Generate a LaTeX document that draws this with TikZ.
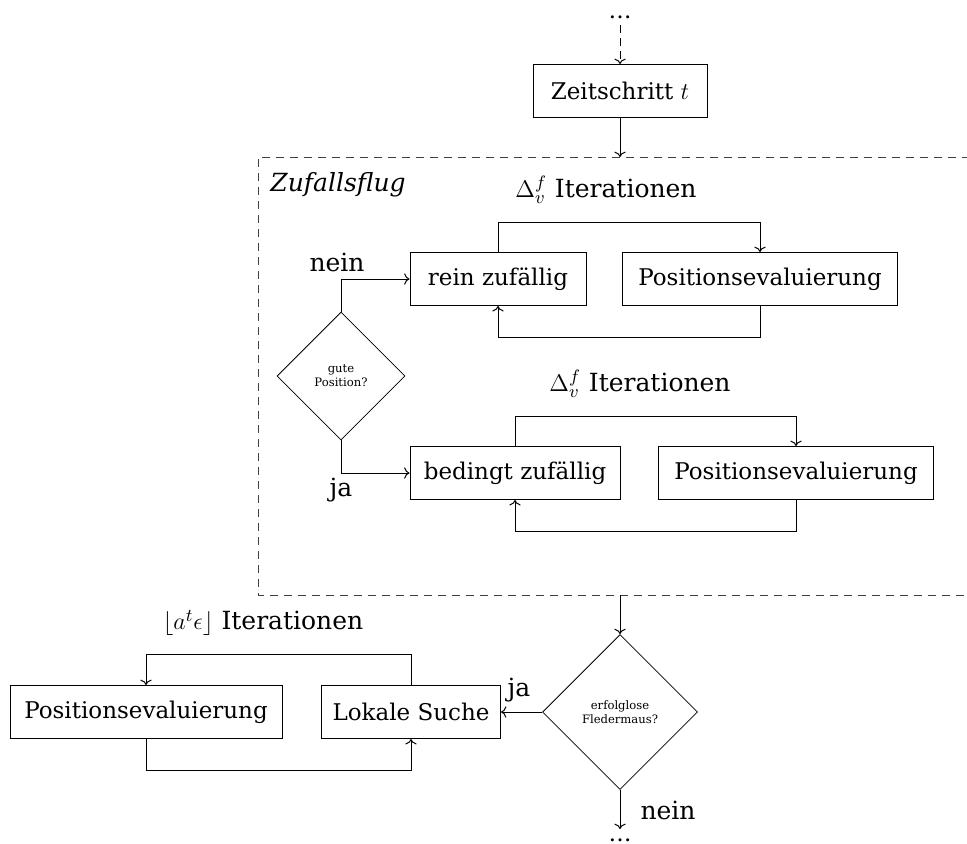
\documentclass[tikz,border=0pt]{standalone}
\usepackage{fontspec}
\setmainfont{DejaVu Serif}
\usetikzlibrary{shapes.geometric,arrows.meta}
\begin{document}
\begin{tikzpicture}[x=0.5pt,y=-0.5pt,
  every node/.style={font=\fontsize{11.5}{14}\selectfont},
  box/.style={draw, line width=0.5pt, minimum height=26.5pt, inner sep=2pt},
  ask/.style={draw, diamond, aspect=1, inner sep=0pt, align=center,
    font=\fontsize{5.8}{7}\selectfont},
  lbl/.style={font=\fontsize{12.5}{15}\selectfont, inner sep=0pt},
  flow/.style={->, line width=0.5pt},
  frame/.style={draw=black!75, dash pattern=on 4pt off 3pt, line width=0.5pt}]
\useasboundingbox (0,0) rectangle (967,843);

% time step and entry
\node[box, minimum width=87pt] (zs) at (620,91) {Zeitschritt $t$};
\node[inner sep=0pt, anchor=base] (dotsTop) at (620,18) {\dots};
\coordinate (entry) at (620,25);
\draw[flow, dash pattern=on 4pt off 2.5pt] (entry) -- (zs.north);

% random flight block
\draw[frame] (970,157) -- (258,157) -- (258,595) -- (970,595);
\coordinate (frameTop) at (620,157);
\coordinate (frameBot) at (620,595);
\draw[flow] (zs.south) -- (frameTop);
\node[lbl, font=\fontsize{12.5}{15}\selectfont\itshape] (zf) at (338,185) {Zufallsflug};

\node[box, minimum width=88pt] (rz) at (498,279) {rein zufällig};
\node[box, minimum width=137.5pt] (pe1) at (760,279) {Positionsevaluierung};
\node[lbl] (it1) at (606,190) {$\Delta_v^f$ Iterationen};
\draw[flow] (rz.north) -- ++(0,-30) -| (pe1.north);
\draw[flow] (pe1.south) -- ++(0,31) -| (rz.south);

\node[ask, minimum size=64pt] (d1) at (341,376) {gute\\Position?};
\draw[flow] (d1.north) |- (rz.west);
\node[lbl] (nein1) at (337,262) {nein};

\node[box, minimum width=105pt] (bz) at (515,473) {bedingt zufällig};
\node[box, minimum width=137.5pt] (pe2) at (796,473) {Positionsevaluierung};
\node[lbl] (it2) at (640,384) {$\Delta_v^f$ Iterationen};
\draw[flow] (bz.north) -- ++(0,-30) -| (pe2.north);
\draw[flow] (pe2.south) -- ++(0,31) -| (bz.south);
\draw[flow] (d1.south) |- (bz.west);
\node[lbl] (ja1) at (341,490) {ja};

% local search
\node[ask, minimum size=77.5pt] (d2) at (620,712) {erfolglose\\Fledermaus?};
\draw[flow] (frameBot) -- (d2.north);

\node[box, minimum width=89.5pt] (ls) at (411,712) {Lokale Suche};
\node[box, minimum width=136pt] (pe3) at (146,712) {Positionsevaluierung};
\node[lbl] (it3) at (263,623) {$\lfloor a^t\epsilon\rfloor$ Iterationen};
\draw[flow] (ls.north) -- ++(0,-31) -| (pe3.north);
\draw[flow] (pe3.south) -- ++(0,31) -| (ls.south);
\draw[flow] (d2.west) -- (ls.east);
\node[lbl] (ja2) at (519,690) {ja};

% exit
\coordinate (exitEnd) at (620,829);
\draw[flow] (d2.south) -- (exitEnd);
\node[lbl] (nein2) at (668,810) {nein};
\node[inner sep=0pt] (dotsBot) at (620,840) {\dots};
\end{tikzpicture}
\end{document}
